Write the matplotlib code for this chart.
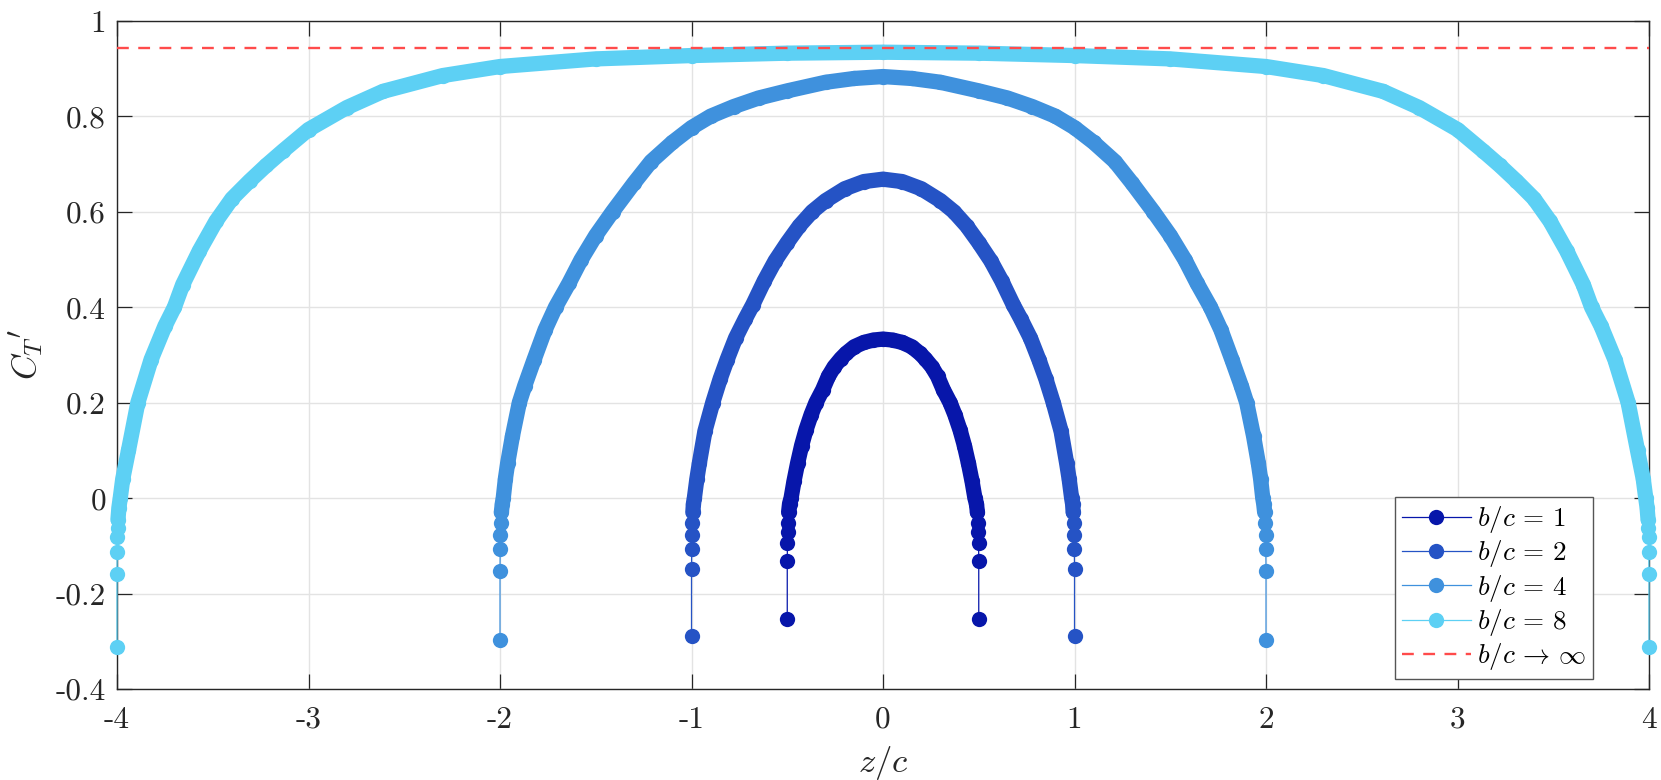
import matplotlib
matplotlib.use('Agg')
import matplotlib.pyplot as plt
import numpy as np

# ---------------- data ----------------
z1 = [-0.500, -0.500, -0.499, -0.498, -0.496, -0.493, -0.488, -0.480, -0.465, -0.446, -0.425,
      -0.402, -0.375, -0.350, -0.315, -0.285, -0.255, -0.220, -0.193, -0.150, -0.100, -0.050,
      0.000,
      0.050, 0.100, 0.150, 0.193, 0.220, 0.255, 0.285, 0.315, 0.350, 0.375, 0.402,
      0.425, 0.446, 0.465, 0.480, 0.488, 0.493, 0.496, 0.498, 0.499, 0.500, 0.500]
ct1 = [-0.254, -0.131, -0.094, -0.072, -0.052, -0.030, -0.012, 0.000, 0.035, 0.073, 0.110,
       0.143, 0.175, 0.200, 0.227, 0.255, 0.275, 0.292, 0.303, 0.317, 0.326, 0.331,
       0.333,
       0.331, 0.326, 0.317, 0.303, 0.292, 0.275, 0.255, 0.227, 0.200, 0.175, 0.143,
       0.110, 0.073, 0.035, 0.000, -0.012, -0.030, -0.052, -0.072, -0.094, -0.131, -0.254]

z2 = [-1.000, -1.000, -0.999, -0.998, -0.996, -0.993, -0.990, -0.985, -0.972, -0.959, -0.930,
      -0.889, -0.850, -0.814, -0.770, -0.720, -0.680, -0.620, -0.563, -0.500, -0.437, -0.370,
      -0.300, -0.200, -0.100,
      0.000,
      0.100, 0.200, 0.300, 0.370, 0.437, 0.500, 0.563, 0.620, 0.680, 0.720, 0.770, 0.814,
      0.850, 0.889, 0.930, 0.959, 0.972, 0.985, 0.990, 0.993, 0.996, 0.998, 0.999, 1.000, 1.000]
ct2 = [-0.290, -0.149, -0.106, -0.077, -0.053, -0.030, -0.012, 0.000, 0.040, 0.073, 0.140,
       0.200, 0.250, 0.290, 0.335, 0.375, 0.405, 0.455, 0.497, 0.535, 0.570, 0.600,
       0.623, 0.648, 0.663,
       0.668,
       0.663, 0.648, 0.623, 0.600, 0.570, 0.535, 0.497, 0.455, 0.405, 0.375, 0.335, 0.290,
       0.250, 0.200, 0.140, 0.073, 0.040, 0.000, -0.012, -0.030, -0.053, -0.077, -0.106, -0.149, -0.290]

z4 = [-2.000, -2.000, -1.999, -1.998, -1.996, -1.993, -1.988, -1.983, -1.972, -1.960, -1.935,
      -1.899, -1.871, -1.822, -1.765, -1.710, -1.640, -1.577, -1.500, -1.412, -1.300, -1.211,
      -1.100, -1.000, -0.900, -0.780, -0.650, -0.500, -0.300, -0.150,
      0.000,
      0.150, 0.300, 0.500, 0.650, 0.780, 0.900, 1.000, 1.100, 1.211, 1.300, 1.412, 1.500,
      1.577, 1.640, 1.710, 1.765, 1.822, 1.871, 1.899, 1.935, 1.960, 1.972, 1.983, 1.988,
      1.993, 1.996, 1.998, 1.999, 2.000, 2.000]
ct4 = [-0.298, -0.152, -0.107, -0.077, -0.052, -0.030, -0.012, 0.000, 0.040, 0.073, 0.130,
       0.200, 0.235, 0.290, 0.352, 0.400, 0.450, 0.499, 0.550, 0.600, 0.660, 0.705,
       0.745, 0.776, 0.800, 0.820, 0.838, 0.853, 0.871, 0.879,
       0.883,
       0.879, 0.871, 0.853, 0.838, 0.820, 0.800, 0.776, 0.745, 0.705, 0.660, 0.600, 0.550,
       0.499, 0.450, 0.400, 0.352, 0.290, 0.235, 0.200, 0.130, 0.073, 0.040, 0.000, -0.012,
       -0.030, -0.052, -0.077, -0.107, -0.152, -0.298]

z8 = [-4.000, -4.000, -3.999, -3.998, -3.997, -3.995, -3.990, -3.983, -3.970, -3.940, -3.891,
      -3.822, -3.750, -3.700, -3.657, -3.570, -3.483, -3.400, -3.308, -3.220, -3.134, -3.000,
      -2.800, -2.611, -2.300, -2.000, -1.500, -1.000, -0.500,
      0.000,
      0.500, 1.000, 1.500, 2.000, 2.300, 2.611, 2.800, 3.000, 3.134, 3.220, 3.308, 3.400,
      3.483, 3.570, 3.657, 3.700, 3.750, 3.822, 3.891, 3.940, 3.970, 3.983, 3.990, 3.995,
      3.997, 3.998, 3.999, 4.000, 4.000]
ct8 = [-0.311, -0.160, -0.113, -0.082, -0.063, -0.045, -0.020, 0.000, 0.040, 0.100, 0.200,
       0.290, 0.360, 0.400, 0.447, 0.518, 0.580, 0.627, 0.664, 0.697, 0.727, 0.772,
       0.818, 0.852, 0.885, 0.904, 0.920, 0.927, 0.932,
       0.934,
       0.932, 0.927, 0.920, 0.904, 0.885, 0.852, 0.818, 0.772, 0.727, 0.697, 0.664, 0.627,
       0.580, 0.518, 0.447, 0.400, 0.360, 0.290, 0.200, 0.100, 0.040, 0.000, -0.020, -0.045,
       -0.063, -0.082, -0.113, -0.160, -0.311]

ct_inf = 0.943

labels = [r'$b/c\,=\,1$', r'$b/c\,=\,2$', r'$b/c\,=\,4$', r'$b/c\,=\,8$']
label_inf = r'$b/c\,\rightarrow\,\infty$'
colors = ['#0716AA', '#2553C5', '#3F91DD', '#5DD0F4']

xticks = [-4, -3, -2, -1, 0, 1, 2, 3, 4]
xticklabels = ['-4', '-3', '-2', '-1', '0', '1', '2', '3', '4']
yticks = [-0.4, -0.2, 0.0, 0.2, 0.4, 0.6, 0.8, 1.0]
yticklabels = ['-0.4', '-0.2', '0', '0.2', '0.4', '0.6', '0.8', '1']

# ---------------- plotting ----------------
plt.rcParams['mathtext.fontset'] = 'cm'
plt.rcParams['font.family'] = ['cmr10', 'DejaVu Serif']
plt.rcParams['axes.unicode_minus'] = False

fig = plt.figure(figsize=(16.61, 7.8), dpi=100)
ax = fig.add_axes([0.07044, 0.11667, 0.92234, 0.85679])

ms = 11.0
mew = 0.0
band = ms + mew
series = [(z1, ct1), (z2, ct2), (z4, ct4), (z8, ct8)]
for (z, ct), lab, col in zip(series, labels, colors):
    z = np.asarray(z)
    ct = np.asarray(ct)
    m = ct >= -0.05
    ax.plot(z[m], ct[m], '-', color=col, lw=band, solid_capstyle='round',
            solid_joinstyle='round', clip_on=False, zorder=3)
    ax.plot(z, ct, '-o', color=col, lw=0.9, ms=ms, mew=mew, mfc=col,
            clip_on=False, zorder=3, label=lab)

ax.axhline(ct_inf, color='#FF4B4B', ls=(0, (5.0, 4.0)), lw=1.7, zorder=4, label=label_inf)

ax.set_xlim(-4, 4)
ax.set_ylim(-0.4, 1)
ax.set_xticks(xticks)
ax.set_xticklabels(xticklabels)
ax.set_yticks(yticks)
ax.set_yticklabels(yticklabels)

ax.tick_params(direction='in', length=11, width=0.9, top=True, right=True,
               labelsize=22.5, colors='#262626')
ax.tick_params(axis='x', pad=12)
ax.tick_params(axis='y', pad=8)

ax.grid(True, color='#e3e3e3', lw=1.0)
ax.set_axisbelow(True)
for sp in ax.spines.values():
    sp.set_color('#262626')
    sp.set_linewidth(1.0)

ax.set_xlabel(r'$z/c$', fontsize=25, color='#262626')
ax.xaxis.set_label_coords(0.5, -0.082)
ax.text(-0.0594, 0.5, r'${C_T}^{\prime}$', rotation=90, transform=ax.transAxes,
        ha='center', va='center', fontsize=25, color='#262626')

leg = ax.legend(loc='lower right', bbox_to_anchor=(1593 / 1661, (780 - 679) / 780),
                bbox_transform=fig.transFigure, borderaxespad=0,
                fontsize=19.5, handlelength=2.55, handletextpad=0.25, labelspacing=0.12,
                borderpad=0.25, fancybox=False, edgecolor='#555555', framealpha=1)
leg.get_frame().set_linewidth(1.0)

fig.savefig('out.png', dpi=100)
